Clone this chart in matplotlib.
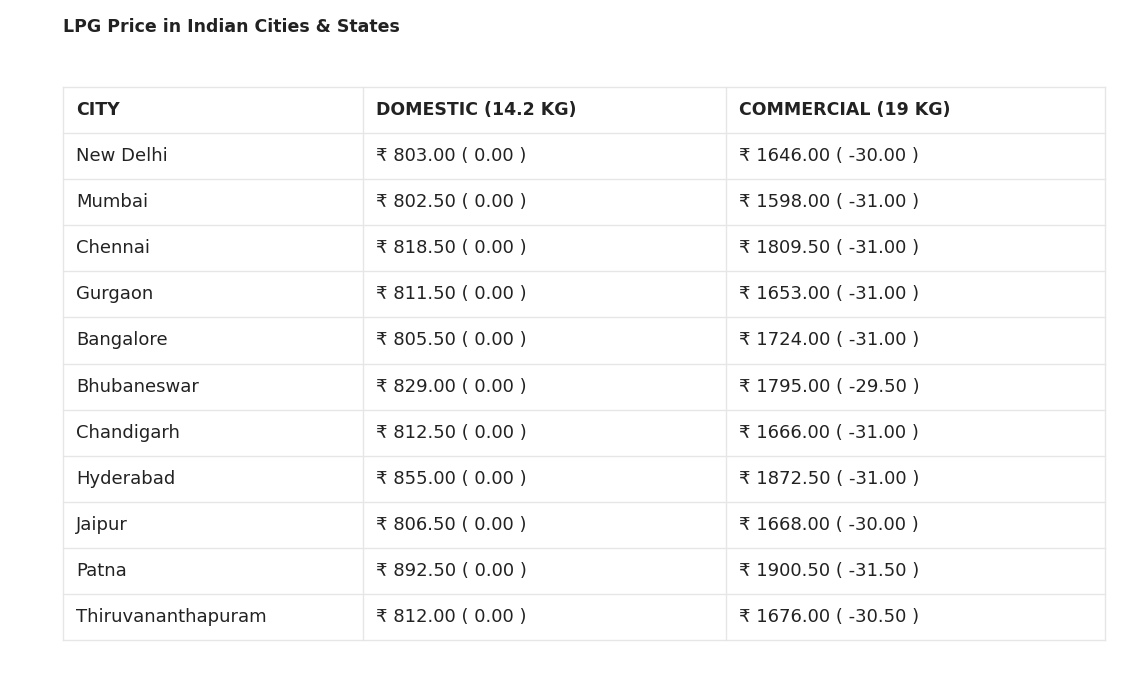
import matplotlib.pyplot as plt

plt.rcParams["font.family"] = "DejaVu Sans"

cities = ["New Delhi", "Mumbai", "Chennai", "Gurgaon", "Bangalore", "Bhubaneswar",
          "Chandigarh", "Hyderabad", "Jaipur", "Patna", "Thiruvananthapuram"]
domestic = [803.00, 802.50, 818.50, 811.50, 805.50, 829.00, 812.50, 855.00, 806.50, 892.50, 812.00]
domestic_change = [0.00] * 11
commercial = [1646.00, 1598.00, 1809.50, 1653.00, 1724.00, 1795.00, 1666.00, 1872.50, 1668.00, 1900.50, 1676.00]
commercial_change = [-30.00, -31.00, -31.00, -31.00, -31.00, -29.50, -31.00, -31.00, -30.00, -31.50, -30.50]
headers = ["CITY", "DOMESTIC (14.2 KG)", "COMMERCIAL (19 KG)"]

W, H = 1140, 679
fig = plt.figure(figsize=(W / 100, H / 100), dpi=100)
ax = fig.add_axes([0, 0, 1, 1])
ax.set_xlim(0, W)
ax.set_ylim(H, 0)
ax.axis("off")

left, right = 63, 1105
cols = [63, 363, 726, 1105]
top, header_h, row_h = 87, 46, 46.1
line_c = "#e6e6e6"
txt_c = "#222222"

ax.text(63, 27, "LPG Price in Indian Cities & States", fontsize=12.5, fontweight="bold",
        color=txt_c, va="center", ha="left")

n = len(cities)
bottom = top + header_h + n * row_h
ys = [top] + [top + header_h + i * row_h for i in range(n + 1)]
for y in ys:
    ax.plot([left, right], [y, y], color=line_c, lw=1)
for x in cols:
    ax.plot([x, x], [top, bottom], color=line_c, lw=1)

for j, h in enumerate(headers):
    ax.text(cols[j] + 13, top + header_h / 2, h, fontsize=12.5, fontweight="bold",
            color=txt_c, va="center", ha="left")

def fmt(v, c):
    return f"\u20b9 {v:.2f} ( {c:.2f} )"

for i in range(n):
    yc = top + header_h + i * row_h + row_h / 2
    ax.text(cols[0] + 13, yc, cities[i], fontsize=13, color=txt_c, va="center")
    ax.text(cols[1] + 13, yc, fmt(domestic[i], domestic_change[i]), fontsize=13, color=txt_c, va="center")
    ax.text(cols[2] + 13, yc, fmt(commercial[i], commercial_change[i]), fontsize=13, color=txt_c, va="center")

fig.savefig("out.png", dpi=100, facecolor="white")
